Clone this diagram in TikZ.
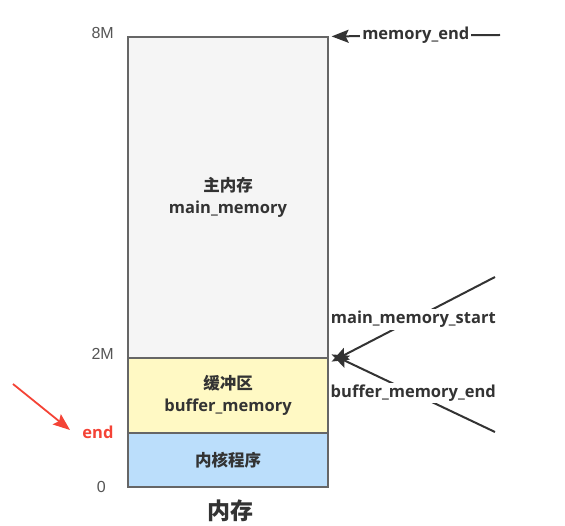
\documentclass[tikz,border=0pt]{standalone}
\usepackage{fontspec}
\setmainfont{Open Sans}
\newfontfamily\cjk{Noto Sans CJK SC}
\newfontfamily\numfont{Liberation Sans}
\usetikzlibrary{arrows.meta}
\definecolor{edge}{HTML}{666666}
\definecolor{mainfill}{HTML}{F5F5F5}
\definecolor{buffill}{HTML}{FFF9C4}
\definecolor{kernfill}{HTML}{BBDEFB}
\definecolor{txt}{HTML}{333333}
\definecolor{redc}{HTML}{F44336}
\definecolor{numc}{HTML}{555555}
\tikzset{
  seg/.style={draw=edge, line width=1.2pt, minimum width=200pt, inner sep=0pt, text=txt, font=\fontsize{16.5}{22}\selectfont\bfseries, align=center},
  num/.style={text=numc, font=\fontsize{16}{18}\selectfont\numfont, anchor=east, inner sep=0pt},
  arr/.style={draw=txt, line width=2pt, -{Stealth[length=17pt,width=13pt,inset=3pt]}},
  lab/.style={fill=white, text=txt, font=\fontsize{16.5}{18}\selectfont\bfseries, inner sep=2pt}
}
\begin{document}
\begin{tikzpicture}[x=1pt,y=-1pt]
\useasboundingbox (0,0) rectangle (565,526);
\node[seg, fill=mainfill, minimum height=321pt] (main) at (228,197.5) {{\cjk\bfseries 主内存}\\main\_memory};
\node[seg, fill=buffill, minimum height=75pt] (buf) at (228,395.5) {{\cjk\bfseries 缓冲区}\\buffer\_memory};
\node[seg, fill=kernfill, minimum height=54pt] (kern) at (228,460) {\cjk\bfseries 内核程序};
\node[text=txt, font=\fontsize{23}{26}\selectfont\cjk\bfseries] (title) at (230,511) {内存};
\node[num] (n8) at (114,33) {8M};
\node[num] (n2) at (114,354) {2M};
\node[num] (n0) at (106,487) {0};
\node[text=redc, font=\fontsize{16.5}{18}\selectfont\bfseries, inner sep=0pt] (endl) at (98,432) {end};
\coordinate (r0) at (13,384);
\coordinate (r1) at (70,430);
\draw[draw=redc, line width=1.8pt, -{Stealth[length=17pt,width=13pt,inset=3pt]}] (r0) -- (r1);
\coordinate (a0) at (500,35);
\draw[arr] (a0) -- node[lab] (lme) {memory\_end} ([xshift=3pt]main.north east);
\coordinate (b0) at (495,277);
\draw[arr] (b0) -- node[lab] (lmms) {main\_memory\_start} ([xshift=3pt,yshift=-3pt]main.south east);
\coordinate (c0) at (495,432);
\draw[arr] (c0) -- node[lab] (lbme) {buffer\_memory\_end} ([xshift=3pt,yshift=3pt]buf.north east);
\end{tikzpicture}
\end{document}
